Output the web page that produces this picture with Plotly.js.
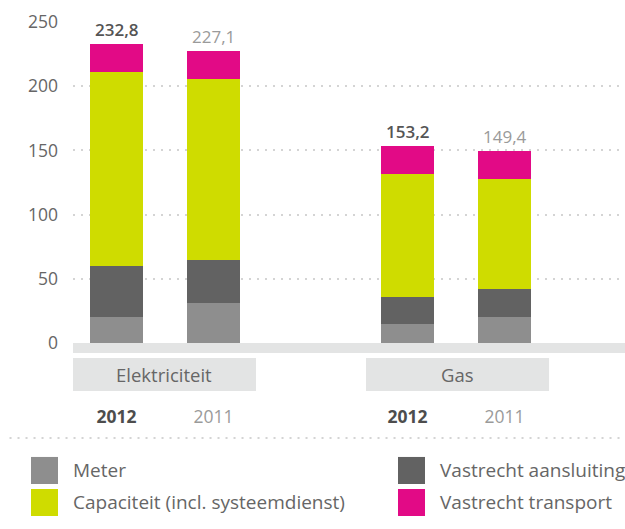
<!DOCTYPE html>
<html>
<head>
<meta charset="utf-8">
<script src="https://cdn.plot.ly/plotly-3.0.1.min.js"></script>
<style>html,body{margin:0;padding:0;background:#fff;}#chart{width:625px;height:529px;}</style>
</head>
<body>
<div id="chart"></div>
<script>
// ---- data ----
var xPositions = [0, 1, 3, 4];
var years = ['2012', '2011', '2012', '2011'];
var groups = ['Elektriciteit', 'Gas'];
var groupCenters = [0.49, 3.515];
var seriesNames = ['Meter', 'Vastrecht aansluiting', 'Capaciteit (incl. systeemdienst)', 'Vastrecht transport'];
var meter = [20.2, 31.2, 14.8, 20.2];
var aansluiting = [39.8, 33.4, 21.0, 21.8];
var capaciteit = [151.0, 141.0, 95.8, 85.7];
var transport = [21.8, 21.5, 21.6, 21.7];
var totals = [232.8, 227.1, 153.2, 149.4];
var totalLabels = ['232,8', '227,1', '153,2', '149,4'];
var yTicks = [0, 50, 100, 150, 200, 250];

// ---- style ----
var colors = ['#8e8e8e', '#626262', '#cfdc00', '#e20a86'];
var FONT = 'Open Sans, Lato, sans-serif';
var series = [meter, aansluiting, capaciteit, transport];

var traces = series.map(function (vals, i) {
  return {
    type: 'bar', x: xPositions, y: vals, name: seriesNames[i],
    marker: {color: colors[i], line: {width: 0}},
    width: 0.546, hoverinfo: 'skip', showlegend: false
  };
});

var annotations = [];
for (var i = 0; i < xPositions.length; i++) {
  var cur = years[i] === '2012';
  annotations.push({
    x: xPositions[i], y: totals[i], xref: 'x', yref: 'y', yanchor: 'bottom', yshift: 1,
    text: totalLabels[i], showarrow: false,
    font: {family: FONT, size: 17, weight: cur ? 600 : 400, color: cur ? '#555555' : '#9a9a9a'}
  });
}
var shapes = [
  {type: 'rect', xref: 'paper', yref: 'paper', x0: 0, x1: 1, y0: -0.0312, y1: 0, fillcolor: '#e3e4e4', line: {width: 0}, layer: 'above'},
  {type: 'rect', xref: 'x', yref: 'paper', x0: -0.449, x1: 1.438, y0: -0.1495, y1: -0.0467, fillcolor: '#e3e4e4', line: {width: 0}},
  {type: 'rect', xref: 'x', yref: 'paper', x0: 2.572, x1: 4.459, y0: -0.1495, y1: -0.0467, fillcolor: '#e3e4e4', line: {width: 0}},
  {type: 'line', xref: 'paper', yref: 'paper', x0: -0.115, x1: 1, y0: -0.296, y1: -0.296, line: {color: '#d4d4d4', width: 2, dash: '2px,6px'}}
];
groups.forEach(function (g, k) {
  annotations.push({x: groupCenters[k], y: -0.0981, xref: 'x', yref: 'paper', text: g, showarrow: false,
    yanchor: 'middle', font: {family: FONT, size: 18.5, color: '#666666'}});
});
// legend (2 columns): order Meter, Vastrecht aansluiting / Capaciteit, Vastrecht transport
var legX = [-0.0761, 0.5888];
var legY = [[-0.4393, -0.355], [-0.5389, -0.4548]];
seriesNames.forEach(function (n, i) {
  var col = i % 2 === 0 ? 0 : 1;
  var row = (i === 0 || i === 1) ? 0 : 1;
  shapes.push({type: 'rect', xref: 'paper', yref: 'paper', x0: legX[col], x1: legX[col] + 0.0489,
    y0: legY[row][0], y1: legY[row][1], fillcolor: colors[i], line: {width: 0}});
  annotations.push({x: legX[col] + 0.0725, y: (legY[row][0] + legY[row][1]) / 2, xref: 'paper', yref: 'paper',
    xanchor: 'left', yanchor: 'middle', text: n, showarrow: false,
    font: {family: FONT, size: 19, color: '#666666'}});
});

var tickText = years.map(function (y) {
  return y === '2012' ? '<b><span style="color:#4d4d4d">' + y + '</span></b>' : y;
});

var layout = {
  width: 625, height: 529,
  margin: {l: 73, r: 0, t: 22, b: 186, pad: 0},
  paper_bgcolor: '#ffffff', plot_bgcolor: '#ffffff',
  barmode: 'stack', showlegend: false,
  font: {family: FONT, color: '#666666'},
  xaxis: {
    range: [-0.4485, 5.242], tickvals: xPositions, ticktext: tickText,
    showgrid: false, zeroline: false, showline: false, ticks: '',
    tickfont: {family: FONT, size: 17.5, color: '#9a9a9a'}, ticklabelstandoff: 61, fixedrange: true
  },
  yaxis: {
    range: [0, 250], tickvals: yTicks, showgrid: true, gridcolor: '#d4d4d4', gridwidth: 2,
    griddash: '2px,6px', zeroline: false, showline: false, ticks: '',
    tickfont: {family: FONT, size: 17.5, color: '#666666'}, ticklabelstandoff: 14, fixedrange: true
  },
  annotations: annotations,
  shapes: shapes
};

Plotly.newPlot('chart', traces, layout, {displayModeBar: false, staticPlot: true});
</script>
</body>
</html>
